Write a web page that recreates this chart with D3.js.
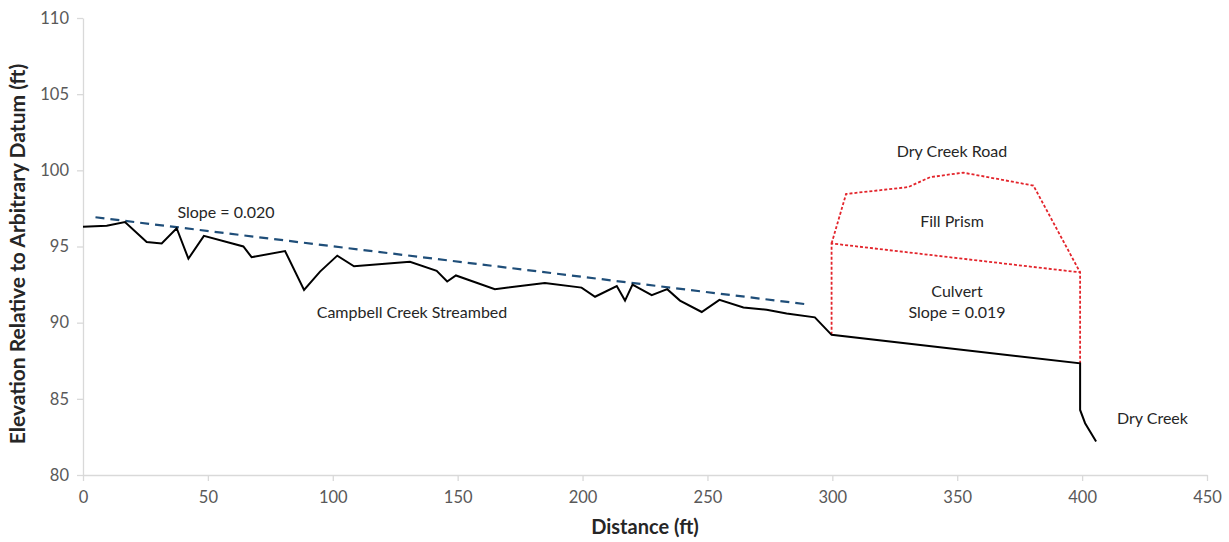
<!DOCTYPE html>
<html><head><meta charset="utf-8">
<script src="https://cdn.jsdelivr.net/npm/d3@7"></script>
<style>body{margin:0;background:#fff;} text{font-family:Lato,"Open Sans",sans-serif;}</style>
</head><body><svg id="c" width="1229" height="542"></svg>
<script>
const xTicks=[0,50,100,150,200,250,300,350,400,450];
const yTicks=[80,85,90,95,100,105,110];
const bedDist=[0,9.5,16.8,25.5,31.5,37.5,42.2,48.4,64.2,67.5,80.9,88.5,94.9,101.8,108.5,130.9,141.6,145.8,149.3,164.9,184.9,199.6,205,213.7,217,220,227.7,233.9,239,247.7,254.8,264.4,273.7,281.7,293,299.7,399.2,399.2,401.2,405.6];
const bedElev=[96.3,96.37,96.6,95.3,95.2,96.2,94.2,95.7,95.0,94.3,94.7,92.15,93.35,94.4,93.7,94.0,93.4,92.7,93.1,92.2,92.6,92.3,91.7,92.4,91.45,92.5,91.8,92.2,91.45,90.7,91.5,91.0,90.85,90.6,90.35,89.2,87.33,84.27,83.4,82.2];
const trendDist=[5,290];
const trendElev=[96.92,91.2];
const culvertDist=[299.7,299.7,399.2,399.2];
const culvertElev=[89.2,95.2,93.3,87.33];
const prismDist=[299.7,305.5,330.4,339.1,352.4,380.5,399.2];
const prismElev=[95.2,98.45,98.9,99.55,99.85,99.0,93.3];

const svg=d3.select('#c');
const x=d3.scaleLinear().domain([0,450]).range([83,1207]);
const y=d3.scaleLinear().domain([80,110]).range([475,18]);
const axCol='#d9d9d9', txtCol='#595959';

const gx=svg.append('g').attr('transform','translate(0,475)').call(d3.axisBottom(x).tickValues(xTicks).tickSize(6).tickPadding(10).tickSizeOuter(0));
const gy=svg.append('g').attr('transform','translate(83,0)').call(d3.axisLeft(y).tickValues(yTicks).tickSize(6).tickPadding(8).tickSizeOuter(0));
[gx,gy].forEach(g=>{g.select('.domain').attr('stroke',axCol).attr('stroke-width',1.3);
 g.selectAll('.tick line').attr('stroke',axCol).attr('stroke-width',1.3);
 g.selectAll('.tick text').attr('fill',txtCol).attr('font-size',16.5).attr('font-family','Lato,sans-serif');});

const line=d3.line().x(d=>x(d[0])).y(d=>y(d[1]));
const zip=(a,b)=>a.map((v,i)=>[v,b[i]]);
svg.append('path').attr('d',line(zip(culvertDist,culvertElev))).attr('fill','none').attr('stroke','#e3242b').attr('stroke-width',1.8).attr('stroke-dasharray','3,2');
svg.append('path').attr('d',line(zip(prismDist,prismElev))).attr('fill','none').attr('stroke','#e3242b').attr('stroke-width',1.8).attr('stroke-dasharray','3,2');
svg.append('path').attr('d',line(zip(trendDist,trendElev))).attr('fill','none').attr('stroke','#1f4e79').attr('stroke-width',2.2).attr('stroke-dasharray','9,6');
svg.append('path').attr('d',line(zip(bedDist,bedElev))).attr('fill','none').attr('stroke','#000').attr('stroke-width',2).attr('stroke-linejoin','miter');

const ann=[["Slope = 0.020",226,218,'middle'],["Campbell Creek Streambed",412,318,'middle'],["Dry Creek Road",952,157,'middle'],["Fill Prism",952,227,'middle'],["Culvert",957,297,'middle'],["Slope = 0.019",957,318,'middle'],["Dry Creek",1117,424,'start']];
ann.forEach(a=>svg.append('text').attr('x',a[1]).attr('y',a[2]).attr('text-anchor',a[3]).attr('font-size',16).attr('fill','#262626').text(a[0]));

svg.append('text').attr('transform','translate(25,254) rotate(-90)').attr('text-anchor','middle').attr('font-size',21).attr('font-weight','bold').attr('fill','#262626').text('Elevation Relative to Arbitrary Datum (ft)');
svg.append('text').attr('x',645).attr('y',534).attr('text-anchor','middle').attr('font-size',20).attr('font-weight','bold').attr('fill','#262626').text('Distance (ft)');
</script></body></html>
